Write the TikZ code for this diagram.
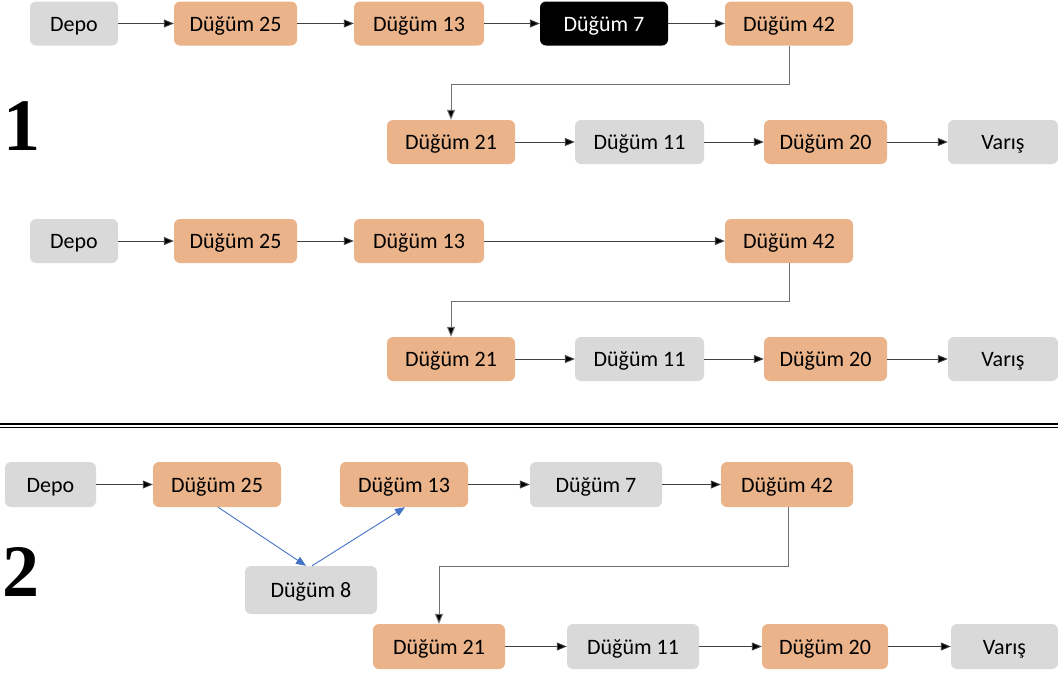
\documentclass[tikz,border=0pt]{standalone}
\usepackage{fontspec}
\setmainfont{Carlito}
\newfontfamily\digitfont{Liberation Serif}
\usetikzlibrary{arrows.meta,calc}
\definecolor{boxorange}{HTML}{EAB38A}
\definecolor{boxgray}{HTML}{D9D9D9}
\definecolor{linegray}{HTML}{404040}
\definecolor{elbowgray}{HTML}{707070}
\definecolor{bluearrow}{HTML}{4472C4}
\tikzset{
  box/.style={rounded corners=6pt, minimum height=44pt, inner sep=0pt,
    text height=15pt, text depth=0pt,
    font=\fontsize{22}{26}\selectfont, text=black},
  obox/.style={box, fill=boxorange},
  gbox/.style={box, fill=boxgray},
  kbox/.style={box, fill=black, text=white},
  conn/.style={draw=linegray, line width=0.9pt,
    -{Triangle[length=10pt,width=8pt,fill=black]}},
  elbow/.style={draw=elbowgray, line width=0.9pt,
    -{Triangle[length=10pt,width=8pt,fill=black]}},
  bconn/.style={draw=bluearrow, line width=0.9pt,
    -{Triangle[length=10pt,width=8pt,fill=bluearrow]}},
  bignum/.style={font=\digitfont\bfseries\fontsize{74}{80}\selectfont, inner sep=0pt, anchor=base}
}
\begin{document}
\begin{tikzpicture}[x=1pt,y=-1pt]
\useasboundingbox (0,0) rectangle (1058,675);

% ---------- Section 1, first diagram ----------
\node[gbox, minimum width=88pt]  (p0)  at (74,23.5)   {Depo};
\node[obox, minimum width=123pt] (p25) at (235.5,23.5) {Düğüm 25};
\node[obox, minimum width=130pt] (p13) at (419,23.5)  {Düğüm 13};
\node[kbox, minimum width=128pt] (p7)  at (604,23.5)  {Düğüm 7};
\node[obox, minimum width=128pt] (p42) at (789,23.5)  {Düğüm 42};
\node[obox, minimum width=128pt] (p21) at (451,142)   {Düğüm 21};
\node[gbox, minimum width=129pt] (p11) at (639.5,142) {Düğüm 11};
\node[obox, minimum width=123pt] (p20) at (825.5,142) {Düğüm 20};
\node[gbox, minimum width=110pt] (pv)  at (1003,142)  {Varış};

\draw[conn] (p0) -- (p25);
\draw[conn] (p25) -- (p13);
\draw[conn] (p13) -- (p7);
\draw[conn] (p7) -- (p42);
\coordinate (pe) at (789,84);
\draw[elbow] (p42.south) -- (pe) -| (p21.north);
\draw[conn] (p21) -- (p11);
\draw[conn] (p11) -- (p20);
\draw[conn] (p20) -- (pv);

\node[bignum] (n1) at (22,150) {1};

% ---------- Section 1, second diagram ----------
\node[gbox, minimum width=88pt]  (q0)  at (74,241)    {Depo};
\node[obox, minimum width=123pt] (q25) at (235.5,241) {Düğüm 25};
\node[obox, minimum width=130pt] (q13) at (419,241)   {Düğüm 13};
\node[obox, minimum width=128pt] (q42) at (789,241)   {Düğüm 42};
\node[obox, minimum width=128pt] (q21) at (451,359)   {Düğüm 21};
\node[gbox, minimum width=129pt] (q11) at (639.5,359) {Düğüm 11};
\node[obox, minimum width=123pt] (q20) at (825.5,359) {Düğüm 20};
\node[gbox, minimum width=110pt] (qv)  at (1003,359)  {Varış};

\draw[conn] (q0) -- (q25);
\draw[conn] (q25) -- (q13);
\draw[conn] (q13) -- (q42);
\coordinate (qe) at (789,301);
\draw[elbow] (q42.south) -- (qe) -| (q21.north);
\draw[conn] (q21) -- (q11);
\draw[conn] (q11) -- (q20);
\draw[conn] (q20) -- (qv);

% ---------- Separator ----------
\draw[line width=1.6pt] (0,424) -- (1058,424);
\draw[line width=0.9pt] (0,427) -- (1058,427);

% ---------- Section 2 ----------
\node[gbox, minimum width=91pt, minimum height=45pt]  (r0)  at (50.5,484.5) {Depo};
\node[obox, minimum width=128pt, minimum height=45pt] (r25) at (217,484.5)  {Düğüm 25};
\node[obox, minimum width=128pt, minimum height=45pt] (r13) at (404,484.5)  {Düğüm 13};
\node[gbox, minimum width=132pt, minimum height=45pt] (r7)  at (596,484.5)  {Düğüm 7};
\node[obox, minimum width=132pt, minimum height=45pt] (r42) at (787,484.5)  {Düğüm 42};
\node[gbox, minimum width=132pt, minimum height=48pt] (r8)  at (311,590)    {Düğüm 8};
\node[obox, minimum width=132pt, minimum height=45pt] (r21) at (439,646.5)  {Düğüm 21};
\node[gbox, minimum width=132pt, minimum height=45pt] (r11) at (633,646.5)  {Düğüm 11};
\node[obox, minimum width=126pt, minimum height=45pt] (r20) at (825,646.5)  {Düğüm 20};
\node[gbox, minimum width=107pt, minimum height=45pt] (rv)  at (1004.5,646.5) {Varış};

\draw[conn] (r0) -- (r25);
\draw[bconn] ($(r25.south)+(1,0)$) -- ($(r8.north)+(-5,0)$);
\draw[bconn] ($(r8.north)+(1,0)$) -- ($(r13.south)+(1,0)$);
\draw[conn] (r13) -- (r7);
\draw[conn] (r7) -- (r42);
\coordinate (re) at (788,566);
\draw[elbow] ($(r42.south)+(1,0)$) -- (re) -| (r21.north);
\draw[conn] (r21) -- (r11);
\draw[conn] (r11) -- (r20);
\draw[conn] (r20) -- (rv);

\node[bignum] (n2) at (21,596) {2};
\end{tikzpicture}
\end{document}
